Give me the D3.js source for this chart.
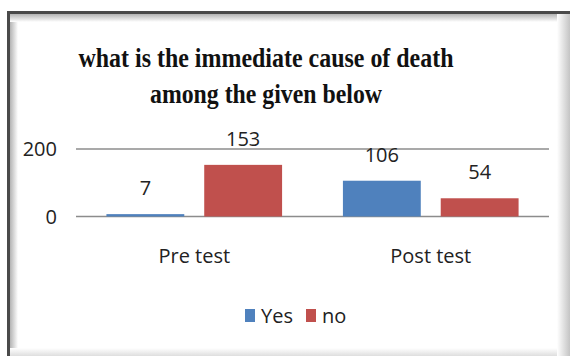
<!DOCTYPE html>
<html>
<head>
<meta charset="utf-8">
<script src="https://cdn.jsdelivr.net/npm/d3@7"></script>
<style>
  body { margin: 0; background: #fff; }
  svg { display: block; }
</style>
</head>
<body>
<svg width="570" height="356"></svg>
<script>
var categories = ["Pre test", "Post test"],
    seriesNames = ["Yes", "no"],
    yesValues = [7, 106],
    noValues = [153, 54],
    yTicks = [0, 200],
    titleLines = ["what  is the immediate  cause of death", "among  the given below"];

var colors = {Yes: "#4f81bd", no: "#c0504d"};

var svg = d3.select("svg"),
    margin = {top: 149, left: 76, right: 21, bottom: 139.5},
    width = +svg.attr("width") - margin.left - margin.right,
    height = +svg.attr("height") - margin.top - margin.bottom;

var defs = svg.append("defs");
function grad(id, x1, y1, x2, y2, c0, c1) {
  var g = defs.append("linearGradient").attr("id", id)
      .attr("x1", x1).attr("y1", y1).attr("x2", x2).attr("y2", y2);
  g.append("stop").attr("offset", 0).attr("stop-color", c0);
  g.append("stop").attr("offset", 1).attr("stop-color", c1);
}
grad("gl", 0, 0, 1, 0, "#b4b4b4", "#ffffff");
grad("gt", 0, 0, 0, 1, "#b4b4b4", "#ffffff");
grad("gr", 0, 0, 1, 0, "#ffffff", "#c4c4c4");
grad("gb", 0, 0, 0, 1, "#ffffff", "#dedede");

// frame with shading
svg.append("rect").attr("x", 10).attr("y", 14).attr("width", 8).attr("height", 342).attr("fill", "url(#gl)");
svg.append("rect").attr("x", 10).attr("y", 14).attr("width", 560).attr("height", 8).attr("fill", "url(#gt)");
svg.append("rect").attr("x", 557).attr("y", 14).attr("width", 13).attr("height", 342).attr("fill", "url(#gr)");
svg.append("rect").attr("x", 10).attr("y", 348).attr("width", 547).attr("height", 8).attr("fill", "url(#gb)");
svg.append("rect").attr("x", 7).attr("y", 11).attr("width", 3).attr("height", 345).attr("fill", "#4a4a4a");
svg.append("rect").attr("x", 7).attr("y", 11).attr("width", 563).attr("height", 3).attr("fill", "#4a4a4a");

// title
svg.append("g")
  .selectAll("text")
  .data(titleLines)
  .enter().append("text")
    .attr("x", 266)
    .attr("y", function(d, i) { return 67 + i * 36; })
    .attr("text-anchor", "middle")
    .attr("font-family", "'Liberation Serif', 'DejaVu Serif', serif")
    .attr("font-weight", "bold")
    .attr("font-size", 28)
    .attr("fill", "#111")
    .attr("textLength", function(d, i) { return i ? 232 : 375; })
    .attr("lengthAdjust", "spacingAndGlyphs")
    .text(function(d) { return d; });

var x0 = d3.scaleBand()
    .domain(categories)
    .range([0, width]);

var x1 = d3.scaleBand()
    .domain(seriesNames)
    .range([0, x0.bandwidth()])
    .paddingInner(0.204)
    .paddingOuter(0.311);

var y = d3.scaleLinear()
    .domain([0, 200])
    .range([height, 0]);

var g = svg.append("g")
    .attr("transform", "translate(" + margin.left + "," + margin.top + ")");

var labelFont = "'Liberation Sans Narrow', 'Open Sans', sans-serif";

// gridlines
g.append("g")
  .selectAll("line")
  .data(yTicks)
  .enter().append("line")
    .attr("x1", 0)
    .attr("x2", width)
    .attr("y1", function(d) { return y(d); })
    .attr("y2", function(d) { return y(d); })
    .attr("stroke", "#8c8c8c")
    .attr("stroke-width", 1.5);

// y tick labels
g.append("g")
  .selectAll("text")
  .data(yTicks)
  .enter().append("text")
    .attr("x", -19)
    .attr("y", function(d) { return y(d); })
    .attr("dy", "0.35em")
    .attr("text-anchor", "end")
    .attr("font-family", labelFont)
    .attr("font-size", 20)
    .attr("fill", "#222")
    .text(function(d) { return d; });

var rows = categories.map(function(c, i) {
  return {cat: c, values: [{key: "Yes", value: yesValues[i]}, {key: "no", value: noValues[i]}]};
});

var group = g.append("g")
  .selectAll("g")
  .data(rows)
  .enter().append("g")
    .attr("transform", function(d) { return "translate(" + x0(d.cat) + ",0)"; });

group.selectAll("rect")
  .data(function(d) { return d.values; })
  .enter().append("rect")
    .attr("x", function(d) { return x1(d.key); })
    .attr("y", function(d) { return y(d.value); })
    .attr("width", x1.bandwidth())
    .attr("height", function(d) { return y(0) - y(d.value); })
    .attr("fill", function(d) { return colors[d.key]; });

group.selectAll("text")
  .data(function(d) { return d.values; })
  .enter().append("text")
    .attr("x", function(d) { return x1(d.key) + x1.bandwidth() / 2; })
    .attr("y", function(d) { return y(d.value) - 19; })
    .attr("text-anchor", "middle")
    .attr("font-family", labelFont)
    .attr("font-size", 20)
    .attr("fill", "#222")
    .text(function(d) { return d.value; });

// category labels
g.append("g")
  .selectAll("text")
  .data(categories)
  .enter().append("text")
    .attr("x", function(d) { return x0(d) + x0.bandwidth() / 2; })
    .attr("y", height + 46)
    .attr("text-anchor", "middle")
    .attr("font-family", labelFont)
    .attr("font-size", 20)
    .attr("fill", "#222")
    .text(function(d) { return d; });

// legend
var legend = svg.append("g")
    .attr("transform", "translate(245,309)");

var item = legend.selectAll("g")
  .data(seriesNames)
  .enter().append("g")
    .attr("transform", function(d, i) { return "translate(" + (i * 61) + ",0)"; });

item.append("rect")
    .attr("width", 10)
    .attr("height", 13)
    .attr("fill", function(d) { return colors[d]; });

item.append("text")
    .attr("x", 16)
    .attr("y", 14)
    .attr("font-family", labelFont)
    .attr("font-size", 20)
    .attr("fill", "#222")
    .text(function(d) { return d; });
</script>
</body>
</html>
